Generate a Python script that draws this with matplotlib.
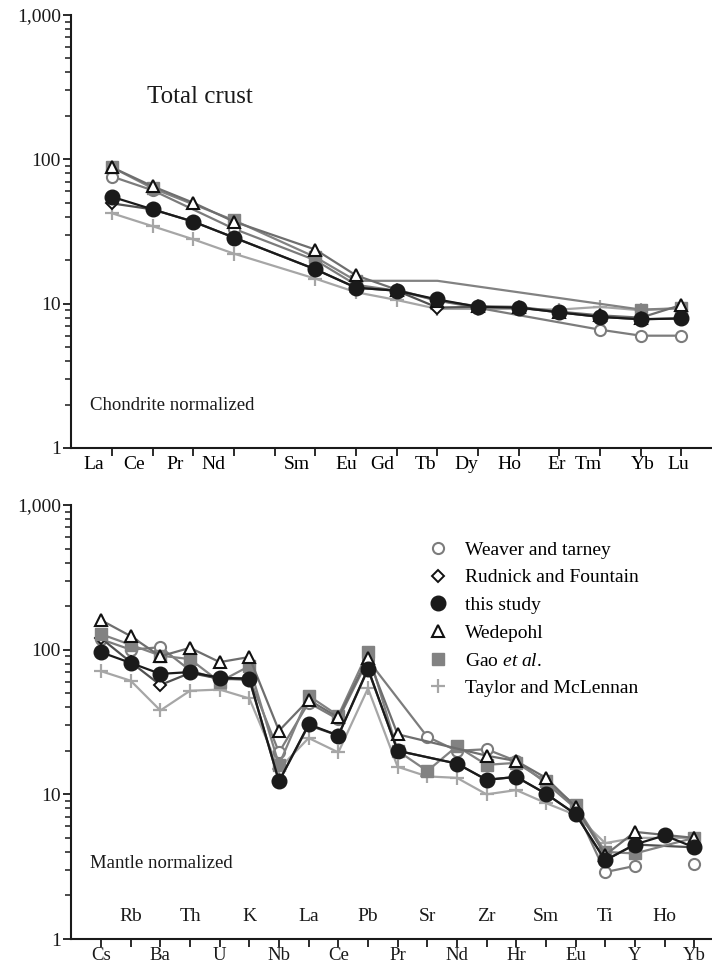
import numpy as np
import matplotlib.pyplot as plt
import matplotlib.transforms as mtransforms
from matplotlib.lines import Line2D
from matplotlib.ticker import LogLocator, NullFormatter

plt.rcParams['font.family'] = ['Liberation Serif', 'DejaVu Serif']
plt.rcParams['mathtext.fontset'] = 'custom'
plt.rcParams['mathtext.rm'] = 'Liberation Serif'
plt.rcParams['mathtext.it'] = 'Liberation Serif:italic'

nan = np.nan

# ---- chondrite normalized REE (top panel); Pm has no data ----
ree = ['La', 'Ce', 'Pr', 'Nd', 'Pm', 'Sm', 'Eu', 'Gd', 'Tb', 'Dy', 'Ho', 'Er', 'Tm', 'Yb', 'Lu']
ree_labels = ['La', 'Ce', 'Pr', 'Nd', '', 'Sm', 'Eu', 'Gd', 'Tb', 'Dy', 'Ho', 'Er', 'Tm', 'Yb', 'Lu']
ree_weaver = [76, 61, nan, 33, nan, 20, 13.5, 12.3, 10.5, nan, nan, nan, 6.6, 6.0, 6.0]
ree_rudnick = [49.5, 45, 37, 28.7, nan, 17.3, 12.9, 12.3, 9.4, 9.5, 9.4, 8.7, 8.1, 7.8, 7.9]
ree_this = [55, 45, 37, 28.7, nan, 17.3, 12.9, 12.3, 10.7, 9.5, 9.4, 8.7, 8.1, 7.8, 7.9]
ree_wedepohl = [88, 65, 50, 37, nan, 23.7, 15.7, 12.5, 10.5, 9.6, 9.5, 8.8, 8.3, 8.0, 9.8]
ree_gao = [88, 63, nan, 37.8, nan, 21, 14.4, nan, 14.4, nan, nan, nan, nan, 9.1, 9.3]
ree_taylor = [42.3, 34.4, 27.9, 22.2, nan, 14.9, 12.0, 10.6, 9.2, 9.2, 9.2, 9.1, 9.5, 9.0, 9.3]
gao_ree_nosymbol = ['Tb']

# ---- mantle normalized spider diagram (bottom panel) ----
spider = ['Cs', 'Rb', 'Ba', 'Th', 'U', 'K', 'Nb', 'La', 'Ce', 'Pb', 'Pr',
          'Sr', 'Nd', 'Zr', 'Hr', 'Sm', 'Eu', 'Ti', 'Y', 'Ho', 'Yb']
sp_weaver = [118, 100, 104, 72, 62, 64, 19.5, 43, 33, 85, nan,
             25, 20, 20.5, 17, 12, 8.0, 2.9, 3.2, nan, 3.3]
sp_rudnick = [120, 82, 57, 69, 63, 62, 12.3, 30, 25.5, 73, 20,
              nan, 16.3, 12.6, 13.2, 10.1, 7.3, 3.5, 4.5, nan, 4.3]
sp_this = [96, 81, 68, 70, 64, 63, 12.3, 30.5, 25.5, 74, 20,
           nan, 16.3, 12.6, 13.2, 10.1, 7.3, 3.5, 4.5, 5.2, 4.3]
sp_wedepohl = [160, 124, 90, 103, 82, 89, 27.5, 45, 34, 88, 26,
               nan, nan, 18.5, 17, 13, 8.2, 3.8, 5.5, nan, 5.0]
sp_gao = [128, 108, 91, 86, 60, 77, 16, 48, 35, 97, 20,
          14.5, 21.5, 16, 16.5, 12.3, 8.4, 4.0, 3.9, nan, 5.0]
sp_taylor = [71, 61, 38, 52, 53, 46, 15, 24.5, 19.5, 54, 15.5,
             13.3, 13, 10, 10.7, 8.7, 7.2, 4.6, 5.0, nan, 5.0]
weaver_sp_break = ['Ho']

# where the REE names sit along the axis (in tick units)
ree_label_x = [-0.46, 0.54, 1.54, 2.49, nan, 4.55, 5.76, 6.65, 7.71, 8.71,
               9.77, 10.93, 11.71, 13.04, 13.93]

styles = {
    'Weaver and tarney': dict(marker='o', ms=8, mfc='white', mec='#7c7c7c',
                              mew=1.5, color='#7c7c7c'),
    'Rudnick and Fountain': dict(marker='D', ms=6.5, mfc='white', mec='#111111',
                                 mew=1.4, color='#505050'),
    'this study': dict(marker='o', ms=10.5, mfc='#1a1a1a', mec='#1a1a1a',
                       mew=1, color='#1a1a1a'),
    'Wedepohl': dict(marker='^', ms=9, mfc='white', mec='#111111',
                     mew=1.5, color='#6e6e6e'),
    'Gao $et\\ al.$': dict(marker='s', ms=8, mfc='#828282', mec='#828282',
                          mew=1, color='#828282'),
    'Taylor and McLennan': dict(marker='+', ms=10, mfc='#a6a6a6', mec='#a6a6a6',
                                mew=1.6, color='#a6a6a6'),
}
legend_order = ['Weaver and tarney', 'Rudnick and Fountain', 'this study',
                'Wedepohl', 'Gao $et\\ al.$', 'Taylor and McLennan']
draw_order = ['Taylor and McLennan', 'Weaver and tarney', 'Rudnick and Fountain',
              'Gao $et\\ al.$', 'Wedepohl', 'this study']

top_series = {
    'Weaver and tarney': ree_weaver, 'Rudnick and Fountain': ree_rudnick,
    'this study': ree_this, 'Wedepohl': ree_wedepohl,
    'Gao $et\\ al.$': ree_gao, 'Taylor and McLennan': ree_taylor,
}
bottom_series = {
    'Weaver and tarney': sp_weaver, 'Rudnick and Fountain': sp_rudnick,
    'this study': sp_this, 'Wedepohl': sp_wedepohl,
    'Gao $et\\ al.$': sp_gao, 'Taylor and McLennan': sp_taylor,
}


def draw_series(ax, names, vals, style, nosymbol=(), breaks=()):
    # missing elements are skipped and the line joins the neighbours,
    # except where a break is asked for
    x = np.arange(len(names), dtype=float)
    v = np.asarray(vals, dtype=float)
    ok = ~np.isnan(v) | np.isin(names, list(breaks))
    keep = [n for n, k in zip(names, ok) if k]
    marks = [n not in nosymbol for n in keep]
    ax.plot(x[ok], v[ok], lw=1.6, markevery=marks, zorder=3, **style)


def setup_axis(ax):
    ax.set_yscale('log')
    ax.set_ylim(1, 1000)
    for s in ('top', 'right'):
        ax.spines[s].set_visible(False)
    for s in ('left', 'bottom'):
        ax.spines[s].set_linewidth(1.5)
        ax.spines[s].set_color('#1a1a1a')
    ax.set_yticks([1, 10, 100, 1000], ['1', '10', '100', '1,000'])
    ax.yaxis.set_minor_locator(LogLocator(base=10, subs=np.arange(2, 10)))
    ax.yaxis.set_minor_formatter(NullFormatter())
    ax.tick_params(axis='y', which='major', direction='out', length=6, width=1.3,
                   labelsize=14, pad=1, colors='#1a1a1a')
    ax.tick_params(axis='y', which='minor', direction='out', length=4, width=1.1,
                   colors='#1a1a1a')


W, H = 712, 968
fig = plt.figure(figsize=(W / 100, H / 100), dpi=100)
left = 70.5 / W
ax1 = fig.add_axes([left, 1 - 448 / H, 1 - left, (448 - 15) / H])
ax2 = fig.add_axes([left, 1 - 939 / H, 1 - left, (939 - 505) / H])

# ---- top: REE ----
setup_axis(ax1)
for name in draw_order:
    nos = gao_ree_nosymbol if name.startswith('Gao') else ()
    draw_series(ax1, ree, top_series[name], styles[name], nos)
ax1.set_xlim(-1.02, 14.75)
ax1.set_xticks(np.arange(len(ree)), [''] * len(ree))
lab_x = [p for p, t in zip(ree_label_x, ree_labels) if t]
lab_t = [t for t in ree_labels if t]
ax1.set_xticks(lab_x, lab_t, minor=True)
ax1.tick_params(axis='x', which='major', direction='out', length=6, width=1.3,
                colors='#1a1a1a')
ax1.tick_params(axis='x', which='minor', length=0, pad=6, labelsize=14)
ax1.text(0.119, 0.81, 'Total crust', transform=ax1.transAxes, fontsize=18,
         va='center', ha='left', color='#1a1a1a')
ax1.text(0.03, 0.099, 'Chondrite normalized', transform=ax1.transAxes,
         fontsize=13.5, va='center', ha='left', color='#1a1a1a')

# ---- bottom: spider diagram ----
setup_axis(ax2)
for name in draw_order:
    brk = weaver_sp_break if name.startswith('Weaver') else ()
    draw_series(ax2, spider, bottom_series[name], styles[name], breaks=brk)
ax2.set_xlim(-1.03, 20.6)
ax2.set_xticks(np.arange(len(spider)),
               [s if i % 2 == 0 else '' for i, s in enumerate(spider)])
ax2.tick_params(axis='x', which='major', direction='out', length=5.5, width=1.3,
                labelsize=13.5, pad=0.5, colors='#1a1a1a')
# every second element name goes on a row just inside the axes
inner = mtransforms.blended_transform_factory(ax2.transData, ax2.transAxes)
for i, s in enumerate(spider):
    if i % 2 == 1:
        ax2.text(i, 0.052, s, transform=inner, ha='center', va='center',
                 fontsize=14, color='#1a1a1a')
ax2.text(0.03, 0.175, 'Mantle normalized', transform=ax2.transAxes,
         fontsize=13.5, va='center', ha='left', color='#1a1a1a')

handles = [Line2D([], [], linestyle='none', **{k: v for k, v in styles[n].items()
                                               if k != 'color'})
           for n in legend_order]
fig.legend(handles, legend_order, loc='upper left',
           bbox_to_anchor=(423 / W, 1 - 541 / H), frameon=False, fontsize=14,
           handlelength=1.5, handletextpad=0.67, labelspacing=0.52,
           borderpad=0, borderaxespad=0)

fig.savefig('out.png', dpi=100)
